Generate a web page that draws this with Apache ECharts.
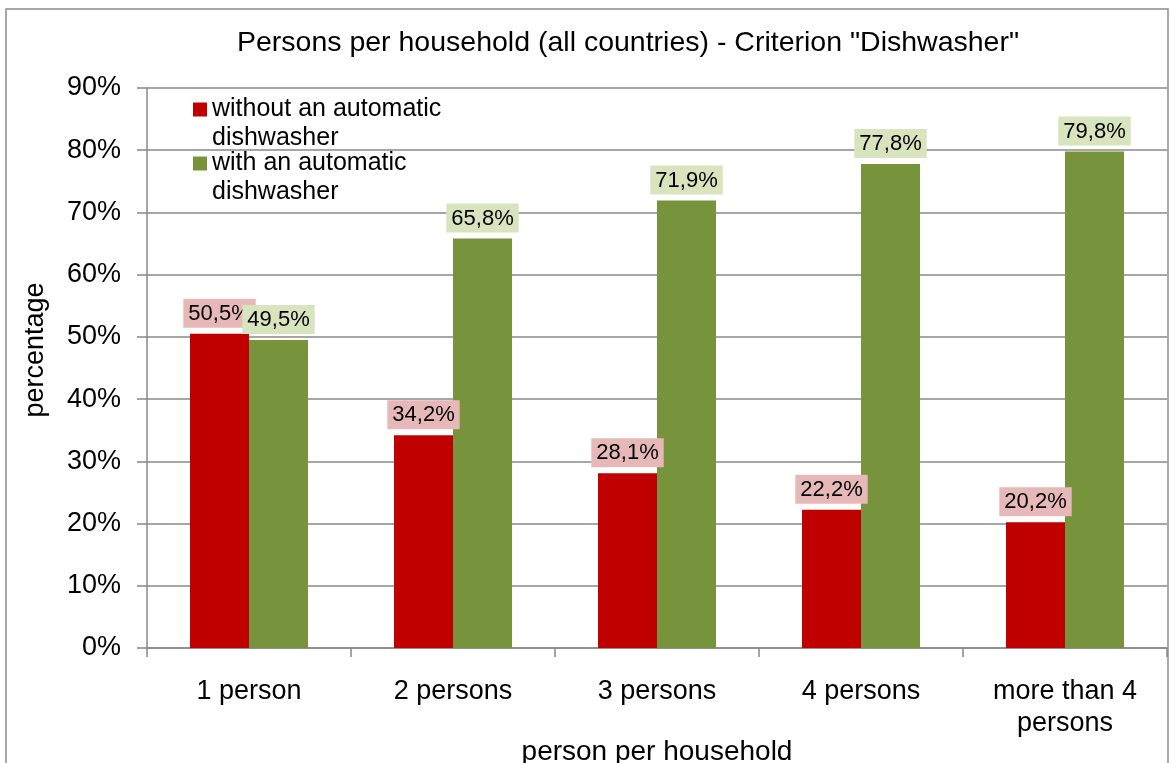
<!DOCTYPE html>
<html><head><meta charset="utf-8">
<script src="https://cdn.jsdelivr.net/npm/echarts@6/dist/echarts.min.js"></script>
<style>html,body{margin:0;padding:0;background:#fff}#c{width:1170px;height:763px}</style>
</head><body><div id="c"></div>
<script>
const categories = ['1 person', '2 persons', '3 persons', '4 persons', 'more than 4\npersons'];
const withoutDishwasher = [50.5, 34.2, 28.1, 22.2, 20.2];
const withDishwasher = [49.5, 65.8, 71.9, 77.8, 79.8];
const seriesNames = ['without an automatic\ndishwasher', 'with an automatic\ndishwasher'];
const yTicks = [0, 10, 20, 30, 40, 50, 60, 70, 80, 90];

const FONT = '"Liberation Sans", Arial, sans-serif';
const chart = echarts.init(document.getElementById('c'));
const fmt = v => v.toFixed(1).replace('.', ',') + '%';
const legendIcon = 'path://M0,0h14v14h-14z M0,43L0,43';
chart.setOption({
  animation: false,
  textStyle: { fontFamily: FONT },
  graphic: [{ type: 'rect', shape: { x: 6, y: 9, width: 1162, height: 800 }, style: { fill: 'none', stroke: '#8c8c8c', lineWidth: 1.5 }, silent: true }],
  title: {
    text: 'Persons per household (all countries) - Criterion "Dishwasher"',
    left: 623, top: 24, textAlign: 'center',
    textStyle: { fontFamily: FONT, fontSize: 28.5, fontWeight: 'normal', color: '#000' }
  },
  legend: {
    left: 188, top: 90, orient: 'vertical', itemGap: -4,
    itemWidth: 14, itemHeight: 43, icon: legendIcon,
    textStyle: { fontFamily: FONT, fontSize: 25, color: '#000', lineHeight: 29 },
    data: seriesNames
  },
  grid: { left: 147, right: 3, top: 88, bottom: 115, outerBoundsMode: 'none' },
  xAxis: {
    type: 'category', data: categories,
    name: 'person per household', nameLocation: 'middle', nameGap: 90, nameMoveOverlap: false,
    nameTextStyle: { fontFamily: FONT, fontSize: 28, color: '#000' },
    axisLine: { lineStyle: { color: '#888', width: 1.5 } },
    axisTick: { show: true, length: 9, lineStyle: { color: '#888', width: 1.5 } },
    axisLabel: { fontFamily: FONT, fontSize: 27, color: '#000', margin: 28, lineHeight: 32 }
  },
  yAxis: {
    type: 'value', min: 0, max: 90, interval: 10,
    name: 'percentage', nameLocation: 'middle', nameGap: 98, nameRotate: 90, nameMoveOverlap: false,
    nameTextStyle: { fontFamily: FONT, fontSize: 27, color: '#000', padding: [0, 0, 0, 36] },
    axisLine: { show: true, lineStyle: { color: '#888', width: 1.5 } },
    axisTick: { show: true, length: 10, lineStyle: { color: '#888', width: 1.5 } },
    splitLine: { lineStyle: { color: '#888', width: 1.5 } },
    axisLabel: { fontFamily: FONT, fontSize: 27, color: '#000', margin: 26,
      formatter: v => yTicks.includes(v) ? v + '%' : '' }
  },
  series: [
    { name: seriesNames[0], type: 'bar', data: withoutDishwasher, barWidth: 59, barGap: '0%',
      itemStyle: { color: '#c00000' },
      label: { show: true, position: 'top', distance: 6, formatter: p => fmt(p.value),
        fontFamily: FONT, fontSize: 22, color: '#000', backgroundColor: '#e6b9b8', padding: [4, 5, 3, 5] } },
    { name: seriesNames[1], type: 'bar', data: withDishwasher, barWidth: 59,
      itemStyle: { color: '#77933c' },
      label: { show: true, position: 'top', distance: 6, formatter: p => fmt(p.value),
        fontFamily: FONT, fontSize: 22, color: '#000', backgroundColor: '#d7e4bd', padding: [4, 5, 3, 5] } }
  ]
});
</script></body></html>
